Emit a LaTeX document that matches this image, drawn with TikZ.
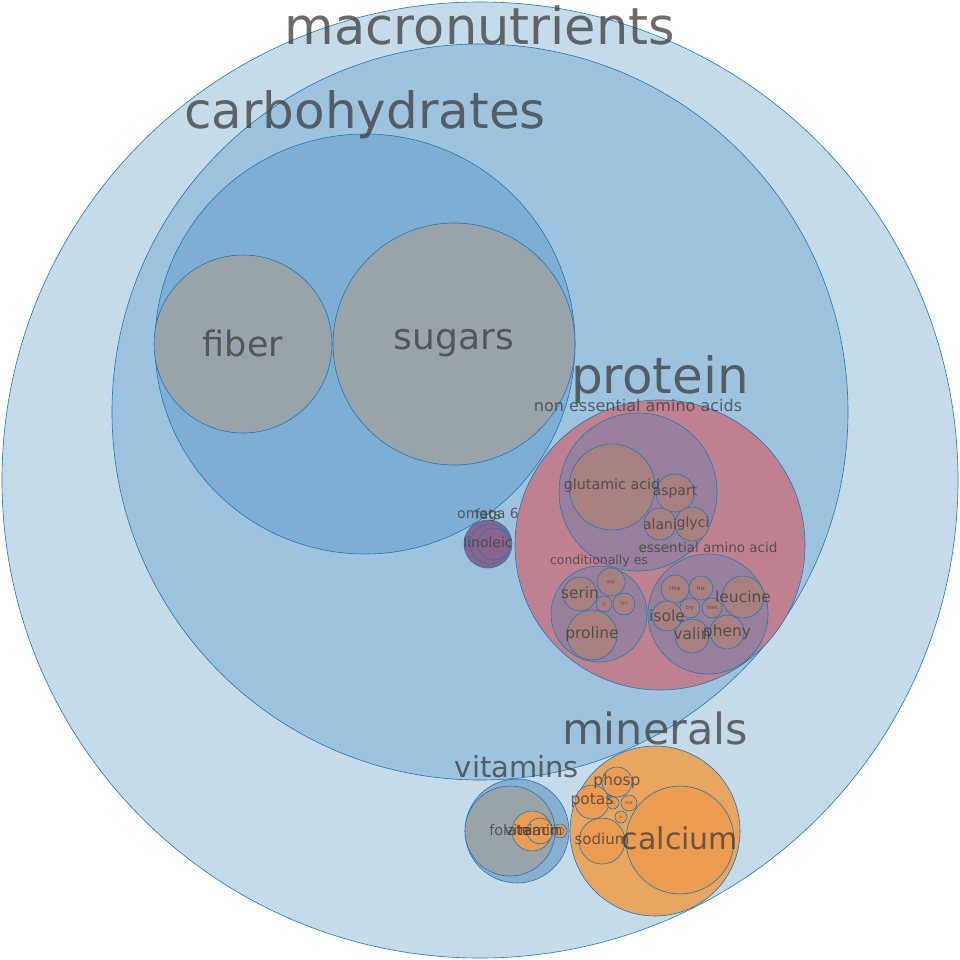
\documentclass[tikz,border=0pt]{standalone}
\usepackage{fontspec}
\setmainfont{DejaVu Sans}
\begin{document}
\begin{tikzpicture}[x=1pt,y=-1pt,
  bub/.style={draw={rgb,255:red,31;green,119;blue,180},line width=0.6pt},
  lab/.style={text={rgb,255:red,60;green,60;blue,60},text opacity=0.75,inner sep=0pt}]
\definecolor{cA}{RGB}{198,219,234}
\definecolor{cB}{RGB}{158,195,222}
\definecolor{cC}{RGB}{126,174,212}
\definecolor{cG}{RGB}{152,164,170}
\definecolor{cP}{RGB}{191,128,144}
\definecolor{cPP}{RGB}{152,128,156}
\definecolor{cPL}{RGB}{168,128,128}
\definecolor{cF}{RGB}{138,100,140}
\definecolor{cM}{RGB}{232,165,96}
\definecolor{cMo}{RGB}{236,156,80}
\definecolor{cV}{RGB}{135,175,208}
\useasboundingbox (0,0) rectangle (960,960);
\fill[white] (0,0) rectangle (960,960);
\newcommand\bc[5]{\path[bub,fill=#5] (#2,#3) circle[radius=#4] node[coordinate] (#1) {};}
\newcommand\fs[1]{\fontsize{#1}{#1}\selectfont}
\bc{macro}{480}{480}{478}{cA}
\bc{carb}{480}{412}{368}{cB}
\bc{carbin}{365}{344}{210}{cC}
\bc{fiber}{243}{344}{89}{cG}
\bc{sugars}{454}{344}{121}{cG}
\bc{protein}{660}{545}{145}{cP}
\bc{ness}{638}{492}{79}{cPP}
\bc{glu}{612}{487}{43}{cPL}
\bc{asp}{675}{493}{19}{cPL}
\bc{ala}{660}{524}{16}{cPL}
\bc{gly}{692}{524}{17}{cPL}
\bc{ess}{708}{614}{60}{cPP}
\bc{thr}{675}{589}{14}{cPL}
\bc{his}{701}{588}{12}{cPL}
\bc{leu}{743}{597}{21}{cPL}
\bc{try}{690}{608}{10}{cPL}
\bc{met}{712}{608}{10}{cPL}
\bc{iso}{667}{616}{15}{cPL}
\bc{val}{692}{636}{17}{cPL}
\bc{phe}{727}{632}{17}{cPL}
\bc{cond}{599}{614}{48}{cPP}
\bc{ser}{580}{594}{17}{cPL}
\bc{arg}{611}{582}{14}{cPL}
\bc{tyr}{604}{604}{8}{cPL}
\bc{cys}{624}{604}{11}{cPL}
\bc{pro}{592}{635}{25}{cPL}
\bc{fats}{488}{544}{24}{cF}
\bc{om}{490}{544}{20}{cF}
\bc{lin}{494}{544}{16}{cF}
\bc{min}{655}{831}{85}{cM}
\bc{cal}{680}{840}{54}{cMo}
\bc{pho}{617}{782}{15}{cMo}
\bc{pot}{592}{802}{17}{cMo}
\bc{sod}{602}{841}{23}{cMo}
\bc{zi}{613}{803}{6}{cMo}
\bc{ma}{629}{803}{8}{cMo}
\bc{ir}{621}{817}{6}{cMo}
\bc{vit}{517}{831}{52}{cV}
\bc{fol}{510}{831}{45}{cG}
\bc{vA}{532}{831}{20}{cMo}
\bc{vB}{540}{831}{13}{cMo}
\bc{vC}{560}{831}{7}{cMo}
\bc{vD}{560}{831}{4}{cMo}
\node[lab,font=\fs{51}] at (480,25) {macronutrients};
\node[lab,font=\fs{50}] at (365,115) {carbohydrates};
\node[lab,font=\fs{35}] at (243,343) {fiber};
\node[lab,font=\fs{36}] at (454,343) {sugars};
\node[lab,font=\fs{50}] at (660,380) {protein};
\node[lab,font=\fs{16}] at (638,406) {non essential amino acids};
\node[lab,font=\fs{14.3}] at (612,486) {glutamic acid};
\node[lab,font=\fs{14}] at (675,492) {aspart};
\node[lab,font=\fs{14}] at (660,524) {alani};
\node[lab,font=\fs{14}] at (693,524) {glyci};
\node[lab,font=\fs{13.5}] at (708,547) {essential amino acid};
\node[lab,font=\fs{5.5}] at (675,588) {thre};
\node[lab,font=\fs{5.5}] at (701,588) {his};
\node[lab,font=\fs{15.5}] at (743,597) {leucine};
\node[lab,font=\fs{5.5}] at (690,608) {try};
\node[lab,font=\fs{5.5}] at (712,608) {met};
\node[lab,font=\fs{15.5}] at (667,616) {isole};
\node[lab,font=\fs{15.5}] at (692,634) {valin};
\node[lab,font=\fs{15.5}] at (727,632) {pheny};
\node[lab,font=\fs{12.5}] at (599,561) {conditionally es};
\node[lab,font=\fs{15.5}] at (580,593) {serin};
\node[lab,font=\fs{4.5}] at (611,582) {argi};
\node[lab,font=\fs{4.5}] at (604,604) {ty};
\node[lab,font=\fs{4.5}] at (624,604) {cys};
\node[lab,font=\fs{15.5}] at (592,634) {proline};
\node[lab,font=\fs{14}] at (488,514) {fats};
\node[lab,font=\fs{14}] at (488,515) {omega 6};
\node[lab,font=\fs{14}] at (488,542) {linoleic};
\node[lab,font=\fs{43}] at (655,728) {minerals};
\node[lab,font=\fs{30}] at (680,838) {calcium};
\node[lab,font=\fs{15.5}] at (617,781) {phosp};
\node[lab,font=\fs{15.5}] at (592,801) {potas};
\node[lab,font=\fs{15}] at (602,839) {sodium};
\node[lab,font=\fs{4}] at (613,803) {zi};
\node[lab,font=\fs{4.5}] at (629,803) {ma};
\node[lab,font=\fs{4}] at (621,817) {ir};
\node[lab,font=\fs{29}] at (517,767) {vitamins};
\node[lab,font=\fs{14.5}] at (510,830) {folate};
\node[lab,font=\fs{14.5}] at (532,830) {vitamin};
\node[lab,font=\fs{14.5}] at (541,830) {niacin};
\end{tikzpicture}
\end{document}
